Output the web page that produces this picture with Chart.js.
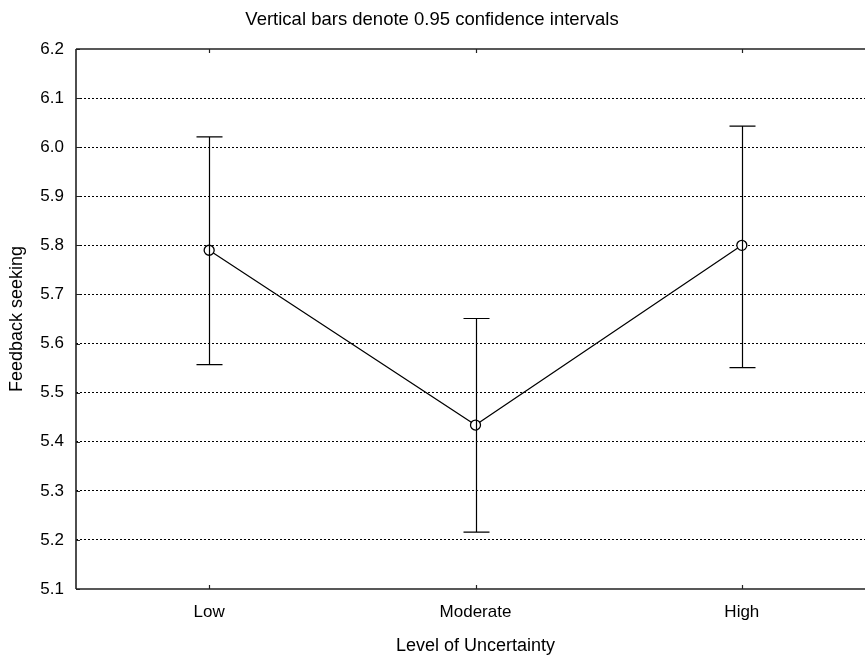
<!DOCTYPE html>
<html>
<head>
<meta charset="utf-8">
<script src="https://cdn.jsdelivr.net/npm/chart.js@4.4.1/dist/chart.umd.min.js"></script>
<style>
html, body { margin:0; padding:0; background:#fff; overflow:hidden; width:865px; height:657px; }
#wrap { width:865px; height:657px; overflow:hidden; position:relative; }
canvas { display:block; }
</style>
</head>
<body>
<div id="wrap"><canvas id="c" width="885" height="657"></canvas></div>
<script>
const categories = ["Low", "Moderate", "High"];
const means = [5.79, 5.434, 5.80];
const lowerCI = [5.557, 5.216, 5.551];
const upperCI = [6.021, 5.651, 6.043];
const yTicks = [5.1, 5.2, 5.3, 5.4, 5.5, 5.6, 5.7, 5.8, 5.9, 6.0, 6.1, 6.2];
const titleText = "Vertical bars denote 0.95 confidence intervals";
const xTitle = "Level of Uncertainty";
const yTitle = "Feedback seeking";

const FONT = "'Liberation Sans', Arial, sans-serif";
const FS = 17;

const framePlugin = {
  id: 'frame',
  afterDatasetsDraw(chart) {
    const {ctx, chartArea: a, scales: {x, y}} = chart;
    ctx.save();
    ctx.strokeStyle = '#000';
    ctx.lineWidth = 1.2;
    const cap = 13;
    for (let i = 0; i < categories.length; i++) {
      const px = Math.round(x.getPixelForValue(i)) + 0.5;
      const yl = y.getPixelForValue(lowerCI[i]);
      const yu = y.getPixelForValue(upperCI[i]);
      ctx.beginPath();
      ctx.moveTo(px, yl); ctx.lineTo(px, yu);
      ctx.moveTo(px - cap, yu); ctx.lineTo(px + cap, yu);
      ctx.moveTo(px - cap, yl); ctx.lineTo(px + cap, yl);
      ctx.stroke();
    }
    ctx.restore();
  },
  afterDraw(chart) {
    const {ctx, chartArea: a, scales: {x, y}} = chart;
    ctx.save();
    ctx.strokeStyle = '#222';
    ctx.lineWidth = 1.6;
    ctx.beginPath();
    ctx.moveTo(a.left, a.top); ctx.lineTo(a.right, a.top);
    ctx.moveTo(a.left, a.top); ctx.lineTo(a.left, a.bottom);
    ctx.moveTo(a.left, a.bottom); ctx.lineTo(a.right, a.bottom);
    ctx.stroke();
    ctx.lineWidth = 1.2;
    ctx.beginPath();
    for (let i = 0; i < categories.length; i++) {
      const px = Math.round(x.getPixelForValue(i)) + 0.5;
      ctx.moveTo(px, a.top); ctx.lineTo(px, a.top + 4);
      ctx.moveTo(px, a.bottom); ctx.lineTo(px, a.bottom - 4);
    }
    for (const v of yTicks) {
      const py = Math.round(y.getPixelForValue(v)) + 0.5;
      ctx.moveTo(a.left, py); ctx.lineTo(a.left + 4, py);
    }
    ctx.stroke();
    ctx.fillStyle = '#000';
    ctx.font = "18.5px " + FONT;
    ctx.textAlign = 'center';
    ctx.textBaseline = 'middle';
    ctx.fillText(titleText, 432, 20);
    ctx.restore();
  }
};

new Chart(document.getElementById('c'), {
  type: 'line',
  data: {
    labels: categories,
    datasets: [{
      data: means,
      borderColor: '#000',
      borderWidth: 1.2,
      pointRadius: 5,
      pointBackgroundColor: '#fff',
      pointBorderColor: '#000',
      pointBorderWidth: 1.3,
      tension: 0,
      fill: false
    }]
  },
  options: {
    responsive: false,
    animation: false,
    layout: { padding: { top: 49, right: 10, left: 0, bottom: 0 } },
    plugins: { legend: { display: false }, tooltip: { enabled: false }, title: { display: false } },
    scales: {
      x: {
        type: 'category',
        offset: true,
        grid: { display: false, drawTicks: false },
        border: { display: false },
        ticks: { color: '#000', font: { family: FONT, size: FS }, padding: 13 },
        title: { display: true, text: xTitle, color: '#000', font: { family: FONT, size: 18 }, padding: { top: 0, bottom: 0 } },
        afterFit(s) { s.height = 68; }
      },
      y: {
        min: 5.1, max: 6.2,
        afterBuildTicks(s) { s.ticks = yTicks.map(v => ({ value: v })); },
        grid: {
          drawTicks: false,
          color: ctx => (ctx.tick && (Math.abs(ctx.tick.value - 5.1) < 1e-6 || Math.abs(ctx.tick.value - 6.2) < 1e-6)) ? 'rgba(0,0,0,0)' : '#000',
          lineWidth: 1
        },
        border: { display: false, dash: [2, 2] },
        ticks: { color: '#000', font: { family: FONT, size: FS }, padding: 12, callback: v => Number(v).toFixed(1) },
        title: { display: true, text: yTitle, color: '#000', font: { family: FONT, size: 18 }, padding: { top: 6, bottom: 0 } },
        afterFit(s) { s.width = 76; }
      }
    }
  },
  plugins: [framePlugin]
});
</script>
</body>
</html>
